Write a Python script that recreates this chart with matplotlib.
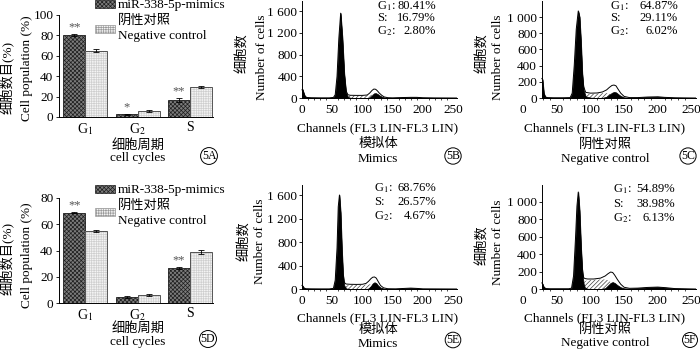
import numpy as np
import matplotlib
matplotlib.use('Agg')
import matplotlib.pyplot as plt
from matplotlib.patches import Rectangle
from matplotlib.ticker import FixedLocator

plt.rcParams['font.family'] = ['Liberation Serif', 'Noto Sans CJK SC']
plt.rcParams['mathtext.fontset'] = 'stix'
plt.rcParams['hatch.linewidth'] = 0.5
plt.rcParams['font.size'] = 8
plt.rcParams['axes.linewidth'] = 0.7

# ---- bar charts (5A, 5D) ----
phases = ['G$_1$', 'G$_2$', 'S']
mimic_a = [80.41, 2.80, 16.79]
mimic_a_err = [1.0, 0.5, 2.0]
neg_a = [64.87, 6.02, 29.11]
neg_a_err = [1.5, 0.8, 0.8]
stars_a = ['**', '*', '**']

mimic_d = [68.76, 4.67, 26.57]
mimic_d_err = [0.5, 0.5, 0.6]
neg_d = [54.89, 6.13, 38.98]
neg_d_err = [0.8, 0.8, 1.5]
stars_d = ['**', '', '**']

legend_labels = ['miR-338-5p-mimics', '阴性对照', 'Negative control']

# ---- flow cytometry histograms (5B, 5C, 5E, 5F) ----
# channel, G1/G2 fit (black), S-phase fit (hatched), total envelope
ch_b = [0, 1, 3, 5, 8, 15, 30, 45, 52, 55, 58, 61, 64, 67, 70, 73, 76, 80, 90, 100,
        108, 112, 116, 119, 122, 125, 128, 132, 136, 142, 150, 165, 180, 190, 200, 220, 256]
g_b = [150, 160, 90, 30, 10, 5, 3, 3, 10, 60, 400, 1100, 1560, 1100, 450, 100, 20, 5, 0, 0,
       0, 10, 50, 85, 90, 75, 50, 25, 10, 3, 3, 8, 12, 12, 5, 2, 0]
s_b = [0, 0, 0, 0, 0, 0, 0, 0, 0, 0, 0, 0, 0, 5, 15, 30, 40, 45, 45, 45,
       50, 55, 60, 55, 45, 30, 20, 10, 3, 0, 0, 0, 0, 0, 0, 0, 0]
t_b = [150, 160, 90, 30, 10, 5, 3, 3, 10, 60, 400, 1100, 1560, 1100, 460, 130, 60, 50, 48, 48,
       55, 90, 140, 165, 160, 130, 90, 50, 20, 6, 3, 8, 12, 12, 5, 2, 0]

ch_c = [28, 29, 31, 33, 36, 45, 60, 70, 73, 76, 79, 82, 84, 86, 88, 90, 93, 100, 110, 118,
        124, 128, 132, 135, 138, 141, 145, 150, 158, 170, 185, 200, 210, 225, 256]
g_c = [240, 230, 60, 15, 5, 3, 3, 5, 60, 400, 850, 1075, 1000, 700, 300, 100, 20, 5, 0, 3,
       15, 40, 65, 75, 70, 50, 25, 8, 3, 5, 12, 15, 8, 3, 0]
s_c = [0, 0, 0, 0, 0, 0, 0, 0, 0, 0, 0, 0, 0, 0, 10, 30, 45, 50, 55, 60,
       60, 55, 45, 35, 25, 15, 5, 0, 0, 0, 0, 0, 0, 0, 0]
t_c = [240, 230, 60, 15, 5, 3, 3, 5, 60, 400, 850, 1075, 1000, 700, 320, 140, 70, 60, 62, 75,
       100, 130, 155, 160, 150, 110, 60, 20, 5, 5, 12, 15, 8, 3, 0]

ch_e = [0, 1, 3, 6, 15, 30, 45, 52, 55, 58, 60, 62, 64, 66, 68, 70, 73, 80, 90, 100,
        106, 110, 114, 117, 120, 123, 126, 130, 135, 142, 155, 170, 180, 190, 200, 256]
g_e = [60, 55, 20, 5, 3, 2, 2, 10, 150, 700, 1400, 1600, 1300, 700, 250, 60, 10, 0, 0, 0,
       0, 10, 50, 95, 115, 100, 60, 25, 8, 2, 3, 10, 15, 10, 3, 0]
s_e = [0, 0, 0, 0, 0, 0, 0, 0, 0, 0, 0, 0, 0, 0, 10, 30, 60, 70, 70, 70,
       75, 80, 80, 75, 60, 45, 30, 15, 5, 0, 0, 0, 0, 0, 0, 0]
t_e = [60, 55, 20, 5, 3, 2, 2, 10, 150, 700, 1400, 1600, 1300, 700, 270, 110, 85, 80, 78, 80,
       95, 130, 175, 200, 205, 185, 130, 60, 20, 5, 3, 10, 15, 10, 3, 0]

ch_f = [28, 29, 31, 34, 40, 55, 68, 72, 75, 78, 80, 82, 84, 86, 88, 90, 92, 96, 105, 115,
        122, 126, 130, 133, 136, 140, 145, 150, 158, 170, 185, 200, 212, 225, 256]
g_f = [70, 60, 20, 5, 3, 3, 3, 10, 150, 600, 950, 1115, 900, 500, 200, 60, 15, 3, 0, 0,
       10, 40, 70, 80, 70, 45, 20, 8, 5, 10, 18, 22, 15, 5, 0]
s_f = [0, 0, 0, 0, 0, 0, 0, 0, 0, 0, 0, 0, 0, 0, 20, 60, 90, 100, 105, 110,
       110, 100, 80, 60, 45, 25, 10, 3, 0, 0, 0, 0, 0, 0, 0]
t_f = [70, 60, 20, 5, 3, 3, 3, 10, 150, 600, 950, 1115, 900, 520, 240, 130, 120, 115, 115, 125,
       150, 175, 195, 190, 160, 110, 55, 20, 8, 10, 18, 22, 15, 5, 0]

phase_names = ['G$_1$:', 'S:', 'G$_2$:']
pct_b = ['80.41%', '16.79%', '2.80%']
pct_c = ['64.87%', '29.11%', '6.02%']
pct_e = ['68.76%', '26.57%', '4.67%']
pct_f = ['54.89%', '38.98%', '6.13%']

W, H = 700, 351
DARK = '#7c7c7c'
LIGHT = '#f4f4f4'
FS = 9.5

fig = plt.figure(figsize=(7, 3.51), dpi=100)


def add_ax(l, t, r, b):
    return fig.add_axes([l / W, 1 - b / H, (r - l) / W, (b - t) / H])


def ftxt(x, y, s, **kw):
    kw.setdefault('ha', 'center')
    kw.setdefault('va', 'center')
    kw.setdefault('fontsize', FS)
    fig.text(x / W, 1 - y / H, s, **kw)


def tag(x, y, s):
    ftxt(x, y, s, fontsize=8.5,
         bbox=dict(boxstyle='circle,pad=0.1', fc='white', ec='black', lw=0.7))


def bar_panel(top, bot, ymax, ystep, mim, mim_err, neg, neg_err, stars):
    ax = add_ax(59, top, 213, bot)
    x = np.arange(len(phases))
    w = 0.42
    ekw = dict(lw=0.6, capsize=2, capthick=0.6, ecolor='black')
    ax.bar(x - w / 2, mim, w, yerr=mim_err, facecolor=DARK, edgecolor='#1e1e1e',
           hatch='xxxxxxxx', lw=0.6, error_kw=ekw)
    ax.bar(x + w / 2, neg, w, facecolor=LIGHT, edgecolor='#cfcfcf', hatch='+++++++', lw=0)
    ax.bar(x + w / 2, neg, w, fill=False, edgecolor='#3a3a3a', lw=0.6,
           yerr=neg_err, error_kw=ekw)
    for xi, v, e, s in zip(x, mim, mim_err, stars):
        ax.annotate(s, (xi - w / 2, v + e), xytext=(0, 0.5), textcoords='offset points',
                    ha='center', va='bottom', fontsize=9, color='#555555')
    ax.set_xlim(-0.5, 2.44)
    ax.set_ylim(0, ymax)
    ax.set_yticks(np.arange(0, ymax + 1, ystep))
    ax.set_xticks(x)
    ax.set_xticklabels(phases, fontsize=10)
    for sp in ['top', 'right']:
        ax.spines[sp].set_visible(False)
    ax.tick_params(axis='x', length=0, pad=3)
    ax.tick_params(axis='y', length=2.5, width=0.6, pad=1.5, labelsize=FS)
    return ax


def legend(p1, t2, p2, t3):
    fig.patches.append(Rectangle((95 / W, 1 - (p1 + 4) / H), 20 / W, 8 / H,
                                 transform=fig.transFigure, facecolor=DARK,
                                 edgecolor='#1e1e1e', hatch='xxxxxxxx', lw=0.5))
    fig.patches.append(Rectangle((95 / W, 1 - (p2 + 4) / H), 20 / W, 8 / H,
                                 transform=fig.transFigure, facecolor=LIGHT,
                                 edgecolor='#9a9a9a', hatch='+++++++', lw=0.5))
    ftxt(118, p1 + 1, legend_labels[0], ha='left')
    ftxt(118, t2, legend_labels[1], ha='left')
    ftxt(118, t3, legend_labels[2], ha='left')


def hist_panel(l, r, t, b, xlo, spine_x, ymax, yticks, ylabels, ch, g, s, tot):
    ax = add_ax(l, t, r, b)
    ax.fill_between(ch, 0, tot, facecolor='white', edgecolor='none')
    ax.fill_between(ch, 0, s, facecolor='white', edgecolor='#404040', hatch='////////', lw=0)
    ax.fill_between(ch, 0, g, facecolor='black', edgecolor='black', lw=0.5)
    ax.plot(ch, tot, color='black', lw=0.7)
    ax.set_xlim(xlo, 256)
    ax.set_ylim(0, ymax)
    for sp in ['top', 'right']:
        ax.spines[sp].set_visible(False)
    ax.spines['left'].set_position(('data', spine_x))
    ax.spines['bottom'].set_bounds(spine_x, 256)
    ax.set_xticks(range(0, 251, 50))
    ax.xaxis.set_minor_locator(FixedLocator([v for v in range(0, 257, 10) if v >= spine_x]))
    ax.set_yticks(yticks)
    ax.set_yticklabels(ylabels)
    ax.tick_params(axis='x', which='major', length=0, pad=4, labelsize=FS)
    ax.tick_params(axis='x', which='minor', length=1.5, width=0.5)
    ax.tick_params(axis='y', length=2, width=0.6, pad=1.5, labelsize=FS)
    return ax


def pct_block(xl, xr, ys, vals):
    for y, n, v in zip(ys, phase_names, vals):
        ftxt(xl, y, n, ha='left', fontsize=9)
        ftxt(xr, y, v, ha='right', fontsize=9)


# 5A
bar_panel(15, 117, 100, 20, mimic_a, mimic_a_err, neg_a, neg_a_err, stars_a)
legend(4, 21, 29, 36)
ftxt(8, 77, '细胞数目(%)', rotation=90)
ftxt(27, 68, 'Cell population (%)', rotation=90)
ftxt(138, 145, '细胞周期')
ftxt(138, 158, 'cell cycles')
tag(209, 156, '5A')

# 5D
bar_panel(198, 303, 80, 20, mimic_d, mimic_d_err, neg_d, neg_d_err, stars_d)
legend(189, 206, 212, 221)
ftxt(8, 258, '细胞数目(%)', rotation=90)
ftxt(27, 255, 'Cell population (%)', rotation=90)
ftxt(138, 328, '细胞周期')
ftxt(138, 342, 'cell cycles')
tag(208, 339, '5D')

# histograms
ticks16 = [0, 400, 800, 1200, 1600]
lab16 = ['0', '400', '800', '1 200', '1 600']
ticks10 = [0, 200, 400, 600, 800, 1000]
lab10 = ['0', '200', '400', '600', '800', '1 000']

pb = 0.604  # px per channel, 5B/5E
pc = 0.674  # px per channel, 5C/5F
hist_panel(302 - pb, 302 + 256 * pb, 1, 98, -1, 0, 1600 * 97 / 87, ticks16, lab16, ch_b, g_b, s_b, t_b)
hist_panel(523, 523 + 256 * pc, 1, 98, 0, 28, 1000 * 97 / 81, ticks10, lab10, ch_c, g_c, s_c, t_c)
hist_panel(302 - pb, 302 + 256 * pb, 185, 289, -1, 0, 1600 * 104 / 94, ticks16, lab16, ch_e, g_e, s_e, t_e)
hist_panel(523, 523 + 256 * pc, 185, 289, 0, 28, 1000 * 104 / 87, ticks10, lab10, ch_f, g_f, s_f, t_f)

pct_block(377, 436, [6, 18, 31], pct_b)
pct_block(610, 678, [6, 18, 31], pct_c)
pct_block(374, 436, [188, 202, 216], pct_e)
pct_block(613, 675, [189, 204, 218], pct_f)

chan = 'Channels (FL3 LIN-FL3 LIN)'
for cx, cn, en, y1, y2, y3 in [(378, '模拟体', 'Mimics', 128, 144, 159),
                                (605, '阴性对照', 'Negative control', 128, 145, 159),
                                (378, '模拟体', 'Mimics', 318, 330, 344),
                                (605, '阴性对照', 'Negative control', 318, 330, 343)]:
    ftxt(cx, y1, chan)
    ftxt(cx, y2, cn)
    ftxt(cx, y3, en)

ftxt(243, 53, '细胞数', rotation=90)
ftxt(262, 57, 'Number of cells', rotation=90)
ftxt(483, 53, '细胞数', rotation=90)
ftxt(498, 57, 'Number of cells', rotation=90)
ftxt(245, 241, '细胞数', rotation=90)
ftxt(260, 241, 'Number of cells', rotation=90)
ftxt(483, 245, '细胞数', rotation=90)
ftxt(498, 242, 'Number of cells', rotation=90)

tag(453, 156, '5B')
tag(688, 156, '5C')
tag(453, 340, '5E')
tag(690, 340, '5F')

fig.savefig('out.png', dpi=100)
